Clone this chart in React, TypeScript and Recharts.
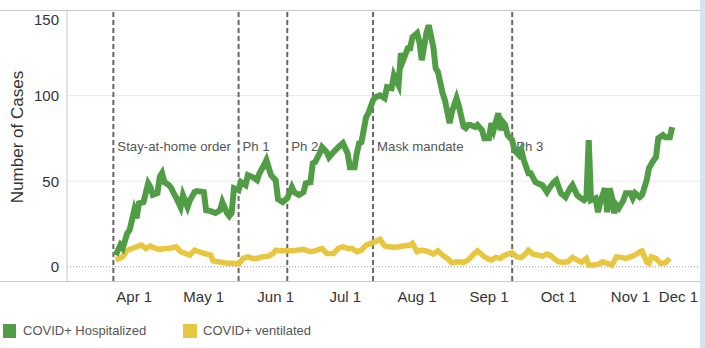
import React from 'react'
import { LineChart, Line, XAxis, YAxis, ReferenceLine } from 'recharts'

// day 0 = Apr 1
const hospDays = [-8, -6, -5, -3, -2, 0, 1, 2, 4, 6, 7, 8, 10, 11, 12, 13, 15, 16, 17, 18, 20, 21, 23, 24, 26, 27, 30, 31, 33, 35, 37, 38, 40, 41, 42, 43, 45, 46, 48, 49, 51, 53, 54, 56, 57, 59, 61, 62, 64, 66, 68, 69, 71, 73, 74, 76, 77, 78, 80, 81, 83, 84, 86, 88, 90, 92, 93, 95, 96, 97, 98, 100, 101, 103, 104, 106, 108, 109, 111, 112, 114, 115, 116, 118, 119, 120, 122, 123, 124, 126, 127, 129, 130, 131, 133, 134, 136, 137, 139, 140, 141, 142, 143, 144, 145, 147, 148, 150, 151, 153, 154, 155, 157, 158, 159, 160, 161, 163, 164, 166, 167, 168, 170, 171, 173, 174, 176, 178, 179, 181, 182, 184, 185, 186, 188, 189, 191, 192, 194, 195, 196, 197, 199, 200, 201, 203, 204, 205, 206, 207, 208, 209, 211, 212, 214, 215, 216, 218, 219, 221, 222, 224, 225, 226, 228, 229, 231, 232]
const hospValues = [6.8, 12.7, 10.9, 19.7, 21.4, 33, 28.4, 37, 37.8, 48.8, 46.5, 42, 43, 52.4, 54.7, 49.5, 47.7, 45.9, 43, 40.7, 34.9, 41.9, 34.9, 38.9, 43.6, 44.2, 43.6, 33, 32.5, 31.4, 33, 37.8, 31.4, 29.6, 31.4, 45.9, 44.8, 49.5, 47.7, 53.5, 52.4, 50.6, 54.7, 59.4, 62.3, 53.5, 50.6, 39.5, 37.8, 40.1, 46.5, 43.6, 41.9, 43.6, 48.8, 49.4, 60.5, 61.1, 66.4, 69.9, 67, 64, 67, 69.9, 72.2, 66.4, 58.2, 58.2, 66.4, 72.2, 72.8, 87.4, 89.7, 97.3, 99.1, 100.2, 98.5, 104.9, 104.3, 111.9, 106.1, 124.8, 120.7, 127.7, 127.7, 134.2, 136.5, 131.2, 120.7, 136.5, 141.1, 128.3, 116, 113.7, 101.4, 97.3, 83.9, 90.5, 98.5, 94, 88, 82, 81, 82.8, 82.8, 81.6, 82.8, 79.8, 75.1, 75.1, 83.9, 79.8, 89.7, 79.8, 84.5, 82.8, 76.9, 74, 68.1, 65.2, 68.1, 62.3, 54.7, 54.7, 49.5, 48.8, 47.7, 43.6, 45.9, 49.5, 50.6, 43, 41.9, 40.7, 45.9, 47.7, 41.9, 40.7, 38.9, 40.1, 74, 39, 40.1, 31.9, 37.8, 45.9, 31.9, 45.9, 40.7, 31.4, 36, 34.3, 38.9, 43, 43, 40.1, 43, 40.7, 41.9, 50.6, 57.6, 62.3, 64, 75.1, 76.9, 75.7, 75.7, 81.6]

const ventDays = [-8, -5, -3, -1, 1, 3, 5, 7, 9, 11, 13, 15, 18, 20, 22, 24, 26, 28, 30, 33, 34, 36, 38, 40, 43, 45, 47, 49, 51, 53, 55, 58, 60, 61, 63, 64, 67, 70, 73, 76, 78, 81, 83, 86, 88, 90, 92, 94, 96, 98, 100, 102, 104, 106, 108, 110, 112, 114, 116, 119, 120, 122, 124, 127, 129, 131, 133, 135, 137, 139, 142, 144, 146, 148, 149, 151, 153, 154, 156, 158, 159, 161, 163, 165, 167, 169, 170, 172, 174, 176, 178, 180, 181, 183, 185, 187, 189, 191, 193, 195, 196, 198, 200, 202, 204, 206, 208, 210, 212, 214, 216, 218, 219, 221, 222, 223, 225, 227, 229, 231]
const ventValues = [3.9, 5.8, 9.7, 10.7, 11.7, 12.7, 10.7, 12.1, 10.7, 10.2, 10.7, 10.7, 11.7, 8.8, 7.8, 6.8, 9.7, 8.8, 7.8, 6.8, 3.5, 2.9, 2.6, 2, 2, 1.6, 4.9, 5.8, 4.9, 4.9, 5.8, 6.2, 7.8, 9.7, 9.3, 9.3, 9.3, 9.7, 10.2, 8.8, 9.3, 10.7, 7.8, 7.8, 10.7, 11.7, 10.7, 10.7, 8.8, 9.7, 12.7, 13.7, 14.6, 16, 12.1, 11.7, 11.3, 11.7, 12.1, 12.7, 13.7, 8.8, 9.7, 8.8, 7.4, 9.3, 6.8, 4.9, 2.3, 2.9, 2.6, 3.9, 6.8, 9.3, 8.2, 5.8, 4.3, 3.9, 5.5, 4.9, 6.2, 7.4, 8.2, 5.8, 5.5, 7.8, 9.7, 7.4, 6.8, 6.2, 7.4, 6.2, 4.9, 2.9, 2.6, 2.9, 5.5, 3.9, 2.6, 4.9, 1, 1, 1.4, 2.9, 2, 1, 5.8, 5.5, 4.9, 5.8, 6.8, 8.8, 9.3, 2.9, 2, 5.8, 4.9, 2, 2.3, 4.9]

const tickDays = [0, 30, 61, 91, 122, 153, 183, 214, 244]
const tickLabels = ['Apr 1', 'May 1', 'Jun 1', 'Jul 1', 'Aug 1', 'Sep 1', 'Oct 1', 'Nov 1', 'Dec 1']
const yTicks = [0, 50, 100, 150]

const phaseDays = [-9, 45, 66, 103, 163]
const phaseLabels = ['Stay-at-home order', 'Ph 1', 'Ph 2', 'Mask mandate', 'Ph 3']

const hospData = hospDays.map((day, i) => ({ day, value: hospValues[i] }))
const ventData = ventDays.map((day, i) => ({ day, value: ventValues[i] }))

const GREEN = '#519d45'
const YELLOW = '#e9c640'
const FONT = '"Liberation Sans", Arial, sans-serif'

function XTick(props: any) {
  const { x, y, payload } = props
  const i = tickDays.indexOf(payload.value)
  const last = i === tickDays.length - 1
  return (
    <text x={last ? x - 2 : x} y={y} dy="0.71em" textAnchor={last ? 'end' : 'middle'}
      fontSize={15} fill="#333" fontFamily={FONT}>
      {tickLabels[i]}
    </text>
  )
}

function YTick(props: any) {
  const { x, y, payload } = props
  return (
    <text x={x} y={payload.value === 150 ? y + 9 : y} textAnchor="end" dominantBaseline="central"
      fontSize={15} fill="#333" fontFamily={FONT}>
      {payload.value}
    </text>
  )
}

function PhaseLabel(text: string) {
  return (props: any) => {
    const vb = props.viewBox
    return (
      <text x={vb.x + 4} y={vb.y + 136} dominantBaseline="central" fontSize={13.2} fill="#555" fontFamily={FONT}>
        {text}
      </text>
    )
  }
}

export default function App() {
  return (
    <div style={{ position: 'absolute', left: 0, top: 0, width: 705, height: 348, background: '#fff', overflow: 'hidden', fontFamily: FONT }}>
      <LineChart width={700} height={348} margin={{ top: 10, right: 0, bottom: 37, left: 0 }}>
        <XAxis type="number" dataKey="day" domain={[-29, 244]} ticks={tickDays} allowDataOverflow interval={0}
          axisLine={false} tickLine={false} tickMargin={4} height={30} tick={<XTick />} />
        <YAxis type="number" domain={[-8.3, 150]} ticks={yTicks} allowDataOverflow width={67} interval={0}
          axisLine={{ stroke: '#c8c8c8' }} tickLine={false} tick={<YTick />}
          label={{
            content: () => (
              <text x={17} y={137} transform="rotate(-90 17 137)" textAnchor="middle" dominantBaseline="central"
                fontSize={17} fill="#333" fontFamily={FONT}>Number of Cases</text>
            ),
          }} />
        <ReferenceLine y={50} stroke="#ebebeb" />
        <ReferenceLine y={100} stroke="#ebebeb" />
        <ReferenceLine y={0} stroke="#999" strokeDasharray="1 2" />
        {phaseDays.map((d, i) => (
          <ReferenceLine key={d} x={d} stroke="#666" strokeWidth={2} strokeDasharray="5 3" label={PhaseLabel(phaseLabels[i])} />
        ))}
        <Line data={ventData} dataKey="value" type="linear" stroke={YELLOW} strokeWidth={5.5} dot={false} isAnimationActive={false} />
        <Line data={hospData} dataKey="value" type="linear" stroke={GREEN} strokeWidth={6} dot={false} isAnimationActive={false} />
      </LineChart>
      <div style={{ position: 'absolute', left: 0, top: 10, width: 700, height: 1, background: '#c8c8c8' }} />
      <div style={{ position: 'absolute', left: 0, top: 281, width: 700, height: 1, background: '#c8c8c8' }} />
      <div style={{ position: 'absolute', left: 700, top: 0, width: 5, height: 348, background: '#d5e3ee' }} />
      <div style={{ position: 'absolute', left: 3, top: 323, display: 'flex', alignItems: 'center', fontSize: 13, color: '#555' }}>
        <span style={{ width: 13, height: 14, background: GREEN, display: 'inline-block' }} />
        <span style={{ marginLeft: 7, width: 160 }}>COVID+ Hospitalized</span>
        <span style={{ width: 14, height: 14, background: YELLOW, display: 'inline-block' }} />
        <span style={{ marginLeft: 6 }}>COVID+ ventilated</span>
      </div>
    </div>
  )
}
